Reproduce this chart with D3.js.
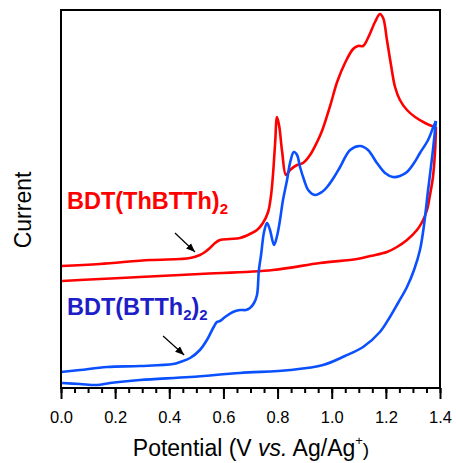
<!DOCTYPE html>
<html>
<head>
<meta charset="utf-8">
<script src="https://cdn.jsdelivr.net/npm/d3@7/dist/d3.min.js"></script>
<style>
  body { margin: 0; background: #fff; }
  svg { display: block; font-family: "Liberation Sans", Arial, sans-serif; }
</style>
</head>
<body>
<script>
// potential (V vs Ag/Ag+) and current (arbitrary units)
// BDT(ThBTTh)2 : forward (anodic) and return scans
var redForwardV = [0.000, 0.144, 0.329, 0.440, 0.477, 0.513, 0.532, 0.550, 0.569, 0.587, 0.624, 0.661, 0.698, 0.724, 0.746, 0.765, 0.776, 0.783, 0.791, 0.798, 0.806, 0.817, 0.831, 0.846, 0.872, 0.894, 0.920, 0.946, 0.964, 0.994, 1.020, 1.049, 1.079, 1.097, 1.116, 1.134, 1.160, 1.178, 1.190, 1.204, 1.219, 1.234, 1.252, 1.278, 1.308, 1.345, 1.370, 1.385];
var redForwardI = [122, 124, 128, 129, 130, 133, 136, 140, 145, 148, 149, 150, 154, 158, 165, 176, 193, 213, 245, 271, 262, 236, 213, 218, 223, 225, 233, 246, 257, 282, 306, 325, 339, 342, 342, 350, 366, 374, 370, 348, 323, 301, 288, 278, 271, 265, 262, 261];
var redReturnV = [1.385, 1.382, 1.374, 1.363, 1.352, 1.334, 1.315, 1.278, 1.241, 1.204, 1.142, 1.093, 0.957, 0.783, 0.513, 0.292, 0.144, 0.004];
var redReturnI = [261, 238, 211, 193, 178, 166, 158, 148, 141, 136, 132, 129, 125, 118, 114, 111, 109, 107];

// BDT(BTTh2)2
var blueForwardV = [0.000, 0.070, 0.170, 0.292, 0.414, 0.440, 0.477, 0.513, 0.539, 0.562, 0.576, 0.587, 0.606, 0.635, 0.661, 0.683, 0.698, 0.713, 0.724, 0.731, 0.739, 0.750, 0.761, 0.772, 0.787, 0.798, 0.809, 0.820, 0.835, 0.846, 0.860, 0.872, 0.883, 0.898, 0.913, 0.938, 0.964, 0.983, 1.009, 1.031, 1.068, 1.105, 1.134, 1.167, 1.197, 1.226, 1.252, 1.278, 1.304, 1.326, 1.356, 1.374, 1.385];
var blueForwardI = [16, 18, 21, 22, 24, 26, 30, 38, 48, 60, 66, 67, 71, 76, 78, 78, 80, 85, 93, 118, 133, 156, 165, 158, 143, 152, 168, 188, 208, 225, 236, 233, 221, 208, 198, 193, 196, 201, 211, 221, 238, 242, 238, 225, 215, 211, 212, 216, 225, 235, 248, 260, 267];
var blueReturnV = [1.385, 1.374, 1.356, 1.341, 1.326, 1.304, 1.278, 1.245, 1.215, 1.178, 1.116, 1.049, 0.968, 0.846, 0.661, 0.477, 0.292, 0.181, 0.133, 0.070, 0.004];
var blueReturnI = [267, 238, 198, 163, 138, 118, 101, 85, 71, 56, 41, 32, 23, 18, 15, 11, 8, 5, 3, 4, 5];

var majorTicks = [0.0, 0.2, 0.4, 0.6, 0.8, 1.0, 1.2, 1.4];

var width = 456,
    height = 463;

var svg = d3.select("body")
    .append("svg")
    .attr("width", width)
    .attr("height", height);

var x = d3.scaleLinear().domain([0, 1.4]).range([61, 440]);
var y = d3.scaleLinear().domain([0, 378]).range([388, 10]);

function pairs(vs, is) {
    return vs.map(function (v, i) { return [v, is[i]]; });
}

var line = d3.line()
    .x(function (d) { return x(d[0]); })
    .y(function (d) { return y(d[1]); })
    .curve(d3.curveCatmullRom.alpha(0.5));

var scans = [
    { data: pairs(redReturnV, redReturnI), color: "#ff0000" },
    { data: pairs(redForwardV, redForwardI), color: "#ff0000" },
    { data: pairs(blueReturnV, blueReturnI), color: "#0a50ff" },
    { data: pairs(blueForwardV, blueForwardI), color: "#0a50ff" }
];

svg.selectAll(".scan")
    .data(scans)
    .enter()
    .append("path")
    .attr("class", "scan")
    .attr("d", function (d) { return line(d.data); })
    .attr("fill", "none")
    .attr("stroke", function (d) { return d.color; })
    .attr("stroke-width", 2.6)
    .attr("stroke-linejoin", "round");

// minor ticks every 0.05 V
svg.append("g")
    .attr("transform", "translate(0,388)")
    .call(d3.axisBottom(x).tickValues(d3.range(0, 29).map(function (i) { return i * 0.05; }))
        .tickSize(5).tickFormat(""))
    .call(function (g) { g.select(".domain").remove(); })
    .selectAll("line").attr("stroke-width", 2);

// major ticks with labels
var xAxis = svg.append("g")
    .attr("transform", "translate(0,388)")
    .call(d3.axisBottom(x).tickValues(majorTicks).tickSize(11).tickPadding(12)
        .tickFormat(d3.format(".1f")));
xAxis.select(".domain").remove();
xAxis.selectAll("line").attr("stroke-width", 2);
xAxis.selectAll("text")
    .attr("font-family", "Liberation Sans, Arial, sans-serif")
    .attr("font-size", 16.5)
    .attr("fill", "#000");

// plot frame
svg.append("rect")
    .attr("x", x(0))
    .attr("y", y(378))
    .attr("width", x(1.4) - x(0))
    .attr("height", y(0) - y(378))
    .attr("fill", "none")
    .attr("stroke", "#000")
    .attr("stroke-width", 2);

// axis titles
var xt = svg.append("text")
    .attr("x", 251)
    .attr("y", 456)
    .attr("text-anchor", "middle")
    .attr("font-size", 23);
xt.append("tspan").text("Potential (V ");
xt.append("tspan").attr("font-style", "italic").text("vs.");
xt.append("tspan").text(" Ag/Ag");
xt.append("tspan").attr("font-size", 13).attr("dy", -11).text("+");
xt.append("tspan").attr("font-size", 19).attr("dy", 11).text(")");

svg.append("text")
    .attr("transform", "translate(31,210) rotate(-90)")
    .attr("text-anchor", "middle")
    .attr("font-size", 23)
    .text("Current");

// compound labels
var labels = [
    { v: 0.022, i: 179, main: "BDT(ThBTTh)", sub: ["2"], mid: [], color: "#ff0000" },
    { v: 0.022, i: 73, main: "BDT(BTTh", sub: ["2", "2"], mid: [")"], color: "#1e1ec8" }
];

labels.forEach(function (l) {
    var t = svg.append("text")
        .attr("x", x(l.v))
        .attr("y", y(l.i))
        .attr("font-size", 23.5)
        .attr("font-weight", "bold")
        .attr("fill", l.color);
    t.append("tspan").text(l.main);
    t.append("tspan").attr("font-size", 15).attr("dy", 5).text(l.sub[0]);
    if (l.mid.length) {
        t.append("tspan").attr("font-size", 23.5).attr("dy", -5).text(l.mid[0]);
        t.append("tspan").attr("font-size", 15).attr("dy", 5).text(l.sub[1]);
    }
});

// arrows pointing at the onset
var arrows = [
    { v0: 0.421, i0: 155, v1: 0.495, i1: 136 },
    { v0: 0.377, i0: 52, v1: 0.455, i1: 33 }
];

svg.append("defs").append("marker")
    .attr("id", "head")
    .attr("viewBox", "0 0 10 10")
    .attr("refX", 10)
    .attr("refY", 5)
    .attr("markerWidth", 9)
    .attr("markerHeight", 9)
    .attr("markerUnits", "userSpaceOnUse")
    .attr("orient", "auto")
    .append("path")
    .attr("d", "M0,1 L10,5 L0,9 z")
    .attr("fill", "#000");

svg.selectAll(".arrow")
    .data(arrows)
    .enter()
    .append("line")
    .attr("class", "arrow")
    .attr("x1", function (d) { return x(d.v0); })
    .attr("y1", function (d) { return y(d.i0); })
    .attr("x2", function (d) { return x(d.v1); })
    .attr("y2", function (d) { return y(d.i1); })
    .attr("stroke", "#000")
    .attr("stroke-width", 1.2)
    .attr("marker-end", "url(#head)");
</script>
</body>
</html>
